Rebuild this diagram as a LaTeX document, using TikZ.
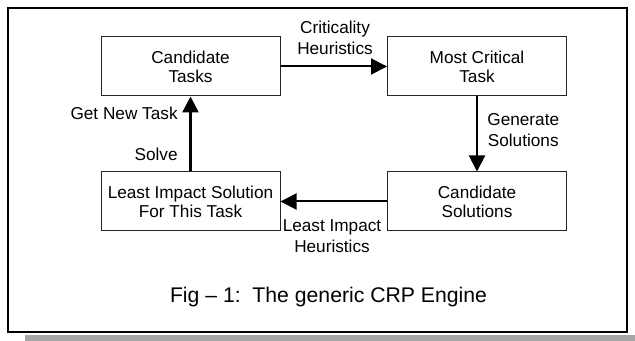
\documentclass[tikz,border=0pt]{standalone}
\usepackage{fontspec}
\setmainfont{Liberation Sans}
\usetikzlibrary{arrows.meta}
\begin{document}
\begin{tikzpicture}[x=0.5pt,y=-0.5pt,
  box/.style={draw=black!85,line width=0.5pt,minimum width=89.5pt,minimum height=29.5pt,inner sep=0pt,align=center,font=\fontsize{8.6}{9.5}\selectfont},
  lbl/.style={inner sep=0pt,align=center,font=\fontsize{8.6}{10.5}\selectfont},
  conn/.style={line width=1pt,-{Triangle[length=8pt,width=8pt]}}]
\useasboundingbox (0,0) rectangle (635,341);
\fill[black!35] (25,335) rectangle (635,341);
\draw[line width=1pt,fill=white] (8,8) rectangle (627,332);
\node[box] (ct) at (190.5,66.5) {Candidate\\Tasks};
\node[box] (mc) at (477,66.5) {Most Critical\\Task};
\node[box] (li) at (190.5,201.5) {Least Impact Solution\\For This Task};
\node[box] (cs) at (477,201.5) {Candidate\\Solutions};
\draw[conn] (ct) -- (mc);
\draw[conn] (mc) -- (cs);
\draw[conn] (cs) -- (li);
\draw[conn,line width=1.3pt] (li) -- (ct);
\node[lbl] (l1) at (335,38) {Criticality\\Heuristics};
\node[lbl,anchor=west] (l2) at (487,130) {Generate\\Solutions};
\node[lbl,anchor=east] (l3) at (178,113) {Get New Task};
\node[lbl,anchor=east] (l4) at (178,154) {Solve};
\node[lbl] (l5) at (332,236) {Least Impact\\Heuristics};
\node[inner sep=0pt,font=\fontsize{10.6}{12}\selectfont] (cap) at (328.5,297) {Fig – 1:\ \ The generic CRP Engine};
\end{tikzpicture}
\end{document}
